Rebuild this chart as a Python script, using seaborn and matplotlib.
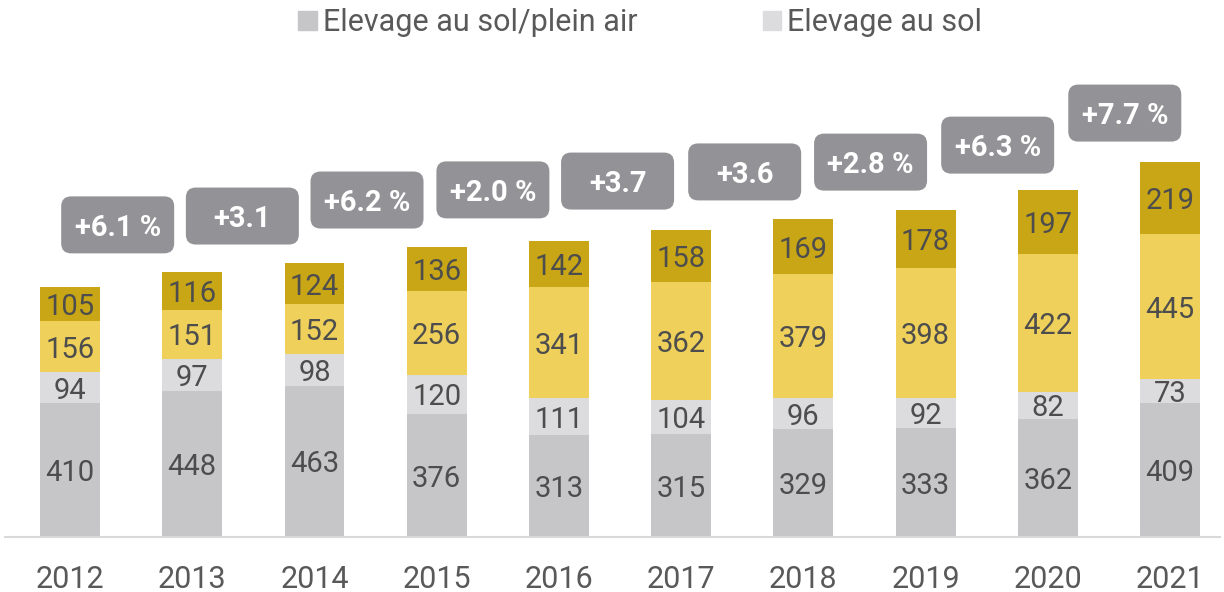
import pandas as pd
import seaborn as sns
import matplotlib.pyplot as plt
from matplotlib.patches import Patch, FancyBboxPatch

# values (bottom to top in each bar)
years = ["2012", "2013", "2014", "2015", "2016", "2017", "2018", "2019", "2020", "2021"]
plein_air = [410, 448, 463, 376, 313, 315, 329, 333, 362, 409]
au_sol = [94, 97, 98, 120, 111, 104, 96, 92, 82, 73]
yellow_part = [156, 151, 152, 256, 341, 362, 379, 398, 422, 445]
gold_part = [105, 116, 124, 136, 142, 158, 169, 178, 197, 219]

growth_labels = ["+6.1 %", "+3.1", "+6.2 %", "+2.0 %", "+3.7", "+3.6", "+2.8 %", "+6.3 %", "+7.7 %"]
growth_x = [0.39, 1.41, 2.43, 3.46, 4.48, 5.52, 6.55, 7.59, 8.63]
growth_y = [955, 982, 1031, 1062, 1089, 1117, 1147, 1199, 1297]

colors = ["#c6c6c8", "#dcdcde", "#eed05a", "#c9a615"]
text_col = "#4d4d4d"

sns.set_style("white")
plt.rcParams["font.family"] = ["Roboto", "DejaVu Sans"]

df = pd.DataFrame({"year": years, "plein_air": plein_air, "au_sol": au_sol,
                   "yellow": yellow_part, "gold": gold_part})
layers = ["plein_air", "au_sol", "yellow", "gold"]
cum = df[layers].cumsum(axis=1)

fig = plt.figure(figsize=(12.24, 5.92), dpi=100)
ax = fig.add_axes([5 / 1224, 55 / 592, 1215 / 1224, 537 / 592])

# draw cumulative totals back to front so each layer shows as a segment
for col, c in reversed(list(zip(layers, colors))):
    sns.barplot(x=df["year"], y=cum[col], color=c, width=0.49, saturation=1,
                edgecolor="none", ax=ax)

ax.set_xlim(-0.532, 9.409)
ax.set_ylim(0, 1643)

# segment labels
for i in range(len(years)):
    base = 0
    for col in layers:
        v = df[col][i]
        ax.text(i, base + v / 2, str(v), ha="center", va="center_baseline",
                fontsize=21, color=text_col)
        base += v

# growth boxes with round corners
fig.canvas.draw()
px_x = ax.transData.transform((1, 0))[0] - ax.transData.transform((0, 0))[0]
px_y = ax.transData.transform((0, 1))[1] - ax.transData.transform((0, 0))[1]
aspect = px_x / px_y
bw, bh = 113 / px_x, 57 / px_y
for lab, x, y in zip(growth_labels, growth_x, growth_y):
    box = FancyBboxPatch((x - bw / 2, y - bh / 2), bw, bh,
                         boxstyle="round,pad=0,rounding_size=%f" % (10 / px_x),
                         mutation_aspect=aspect, fc="#939397", ec="none",
                         zorder=3)
    ax.add_patch(box)
    ax.text(x, y, lab, ha="center", va="center_baseline", fontsize=21,
            fontweight="bold", color="white", zorder=4)

for s in ["left", "right", "top"]:
    ax.spines[s].set_visible(False)
ax.spines["bottom"].set_color("#d9d9d9")
ax.spines["bottom"].set_linewidth(1.5)
ax.set_yticks([])
ax.set_xlabel("")
ax.set_ylabel("")
ax.tick_params(axis="x", length=0, pad=20, labelsize=22, labelcolor="#595959")

handles = [Patch(color=colors[0], label="Elevage au sol/plein air"),
           Patch(color=colors[1], label="Elevage au sol")]
fig.legend(handles=handles, loc="center", bbox_to_anchor=(0.523, 0.962), ncol=2,
           frameon=False, fontsize=22, labelcolor="#595959",
           handlelength=0.6, handleheight=0.6, handletextpad=0.2,
           columnspacing=4.1)

fig.savefig("out.png", dpi=100)
